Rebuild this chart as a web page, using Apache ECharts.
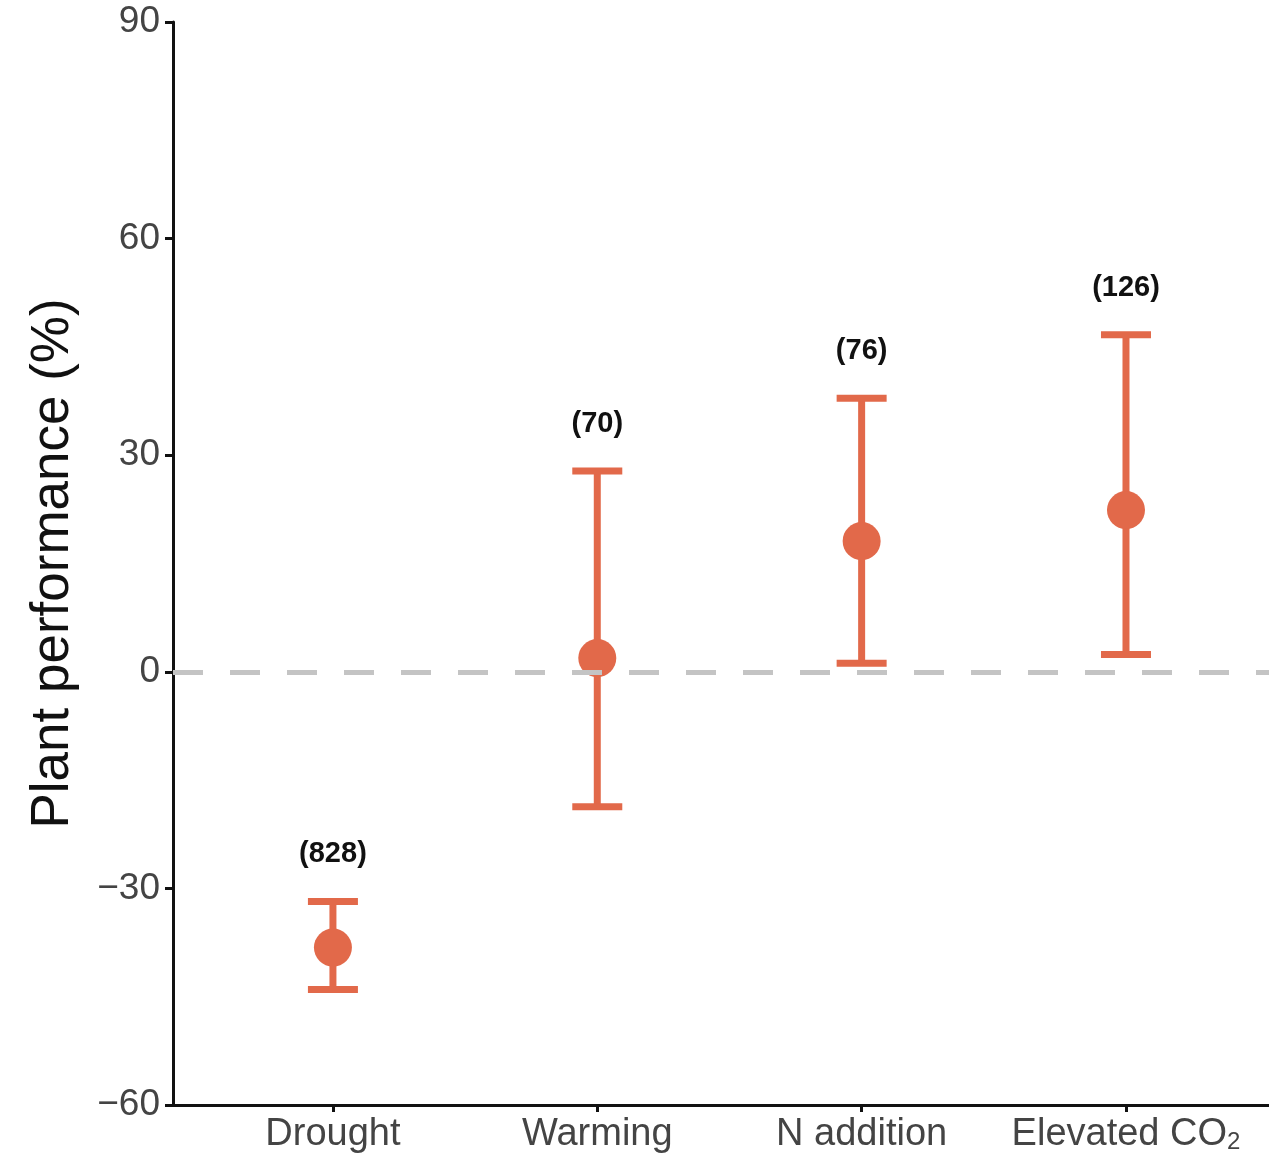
<!DOCTYPE html>
<html>
<head>
<meta charset="utf-8">
<title>Plant performance</title>
<script src="https://cdn.jsdelivr.net/npm/echarts@6/dist/echarts.min.js"></script>
<style>
  html, body { margin: 0; padding: 0; background: #ffffff; }
  #chart { width: 1269px; height: 1157px; }
</style>
</head>
<body>
<div id="chart"></div>
<script>
// Treatments and their effect on plant performance (%), with CI bounds and sample sizes
const categories = ['Drought', 'Warming', 'N addition', 'Elevated CO{sub|2}'];
const means = [-38.2, 1.9, 18.1, 22.4];
const lowers = [-44.0, -18.7, 1.2, 2.4];
const uppers = [-31.8, 27.8, 37.9, 46.7];
const sampleSizes = [828, 70, 76, 126];
const yTicks = [-60, -30, 0, 30, 60, 90];

const positions = categories.map((_, i) => i + 1);
const ORANGE = '#E2694A';
const FONT = '"Liberation Sans", Arial, Helvetica, sans-serif';

const chart = echarts.init(document.getElementById('chart'), null, { renderer: 'canvas' });

const barData = positions.map((x, i) => [x, lowers[i], uppers[i], sampleSizes[i]]);
const pointData = positions.map((x, i) => [x, means[i]]);

chart.setOption({
  backgroundColor: '#ffffff',
  animation: false,
  grid: { left: 173, right: 0, top: 22, bottom: 52, containLabel: false },
  xAxis: {
    type: 'value',
    min: 0.395,
    max: 4.541,
    splitLine: { show: false },
    axisLine: { show: true, onZero: false, lineStyle: { color: '#111', width: 3 } },
    axisTick: { show: true, length: 7, lineStyle: { color: '#111', width: 3 }, customValues: positions },
    axisLabel: {
      show: true,
      customValues: positions,
      margin: 11,
      fontFamily: FONT,
      fontSize: 38,
      color: '#444',
      formatter: (v) => categories[Math.round(v) - 1] || '',
      rich: {
        sub: { fontFamily: FONT, fontSize: 24, color: '#444', verticalAlign: 'bottom', padding: [14, 0, 0, 0] }
      }
    }
  },
  yAxis: {
    type: 'value',
    min: yTicks[0],
    max: yTicks[yTicks.length - 1],
    interval: 30,
    name: 'Plant performance (%)',
    nameLocation: 'middle',
    nameGap: 93,
    nameRotate: 90,
    nameTextStyle: { fontFamily: FONT, fontSize: 53, color: '#111' },
    splitLine: { show: false },
    axisLine: { show: true, onZero: false, lineStyle: { color: '#111', width: 3 } },
    axisTick: { show: true, length: 8, lineStyle: { color: '#111', width: 3 } },
    axisLabel: {
      fontFamily: FONT, fontSize: 37, color: '#444', margin: 13,
      formatter: (v) => String(v).replace('-', '\u2212')
    }
  },
  series: [
    {
      // confidence interval whiskers with caps and sample size labels
      type: 'custom',
      z: 2,
      data: barData,
      renderItem: function (params, api) {
        const x = api.value(0);
        const lo = api.coord([x, api.value(1)]);
        const hi = api.coord([x, api.value(2)]);
        const capHalf = 25;
        const style = { stroke: ORANGE, lineWidth: 7, lineCap: 'butt' };
        return {
          type: 'group',
          children: [
            { type: 'line', shape: { x1: lo[0], y1: lo[1], x2: hi[0], y2: hi[1] }, style },
            { type: 'line', shape: { x1: hi[0] - capHalf, y1: hi[1], x2: hi[0] + capHalf, y2: hi[1] }, style },
            { type: 'line', shape: { x1: lo[0] - capHalf, y1: lo[1], x2: lo[0] + capHalf, y2: lo[1] }, style },
            {
              type: 'text',
              style: {
                x: hi[0], y: hi[1] - 47,
                text: '(' + api.value(3) + ')',
                fontFamily: FONT, fontSize: 29, fontWeight: 'bold', fill: '#111',
                align: 'center', verticalAlign: 'middle'
              }
            }
          ]
        };
      }
    },
    {
      // mean effect points
      type: 'scatter',
      z: 3,
      data: pointData,
      symbol: 'circle',
      symbolSize: 38,
      itemStyle: { color: ORANGE, opacity: 1 },
      markLine: {
        silent: true,
        symbol: 'none',
        z: 5,
        label: { show: false },
        lineStyle: { color: '#C4C4C4', width: 5, type: [30, 27] },
        data: [{ yAxis: 0 }]
      }
    }
  ]
});
</script>
</body>
</html>
